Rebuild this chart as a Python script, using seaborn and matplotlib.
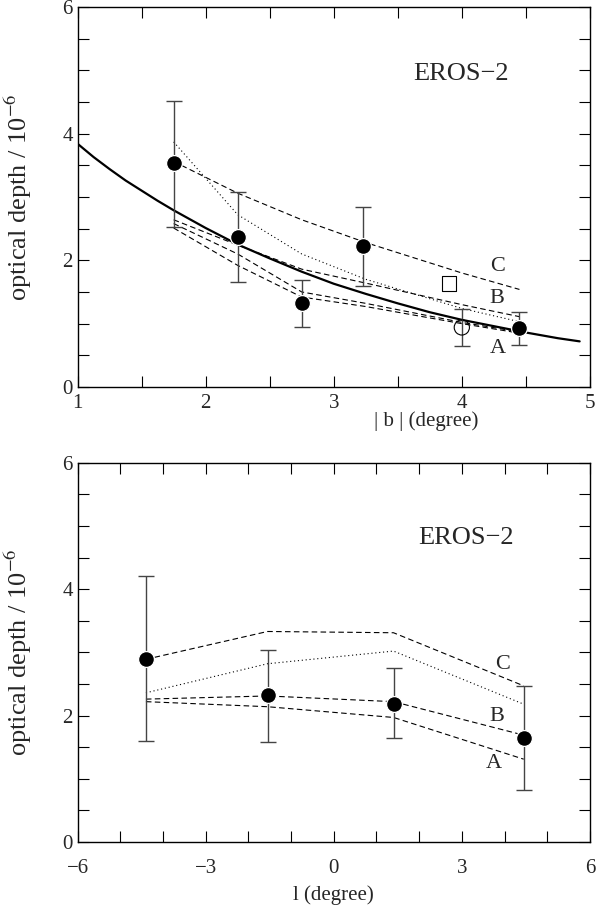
import matplotlib
import matplotlib.pyplot as plt
import seaborn as sns
import pandas as pd

matplotlib.use('Agg')

# top panel data: optical depth vs |b|
b_pts = [1.75, 2.25, 2.75, 3.23, 4.45]
b_tau = [3.53, 2.37, 1.32, 2.22, 0.93]
b_err_hi = [4.52, 3.08, 1.69, 2.84, 1.19]
b_err_lo = [2.53, 1.66, 0.94, 1.59, 0.66]

open_b = [4.0]
open_tau = [0.94]
open_hi = [1.23]
open_lo = [0.65]

square_b = [3.90]
square_tau = [1.63]

# solid fit curve
fit_b = [1.0, 1.125, 1.25, 1.375, 1.5, 1.625, 1.75, 1.875, 2.0, 2.125, 2.25, 2.5, 2.75,
         3.0, 3.25, 3.5, 3.75, 4.0, 4.25, 4.5, 4.75, 4.92]
fit_tau = [3.84, 3.63, 3.44, 3.26, 3.10, 2.94, 2.79, 2.65, 2.51, 2.38, 2.25, 2.03, 1.82,
           1.63, 1.47, 1.32, 1.18, 1.06, 0.96, 0.86, 0.77, 0.72]

# model lines, top panel
model_b = [1.75, 2.25, 2.75, 3.25, 4.0, 4.45]
top_C = [3.56, 3.06, 2.64, 2.28, 1.80, 1.54]
top_dot = [3.87, 2.72, 2.10, 1.70, 1.24, 1.03]
top_B = [2.64, 2.24, 1.86, 1.64, 1.30, 1.11]
top_M = [2.58, 2.10, 1.50, 1.32, 1.02, 0.87]
top_A = [2.51, 1.92, 1.42, 1.27, 1.00, 0.85]

# bottom panel data: optical depth vs l
l_pts = [-4.4, -1.55, 1.4, 4.45]
l_tau = [2.89, 2.32, 2.19, 1.65]
l_err_hi = [4.20, 3.04, 2.75, 2.47]
l_err_lo = [1.60, 1.58, 1.64, 0.82]

bot_C = [2.89, 3.33, 3.31, 2.47]
bot_dot = [2.36, 2.82, 3.02, 2.18]
bot_B = [2.26, 2.31, 2.22, 1.69]
bot_A = [2.22, 2.14, 1.97, 1.31]

sns.set_theme(style='ticks')
plt.rcParams['font.family'] = ['Liberation Serif', 'DejaVu Serif']
plt.rcParams['mathtext.fontset'] = 'stix'
plt.rcParams['xtick.direction'] = 'in'
plt.rcParams['ytick.direction'] = 'in'

fig = plt.figure(figsize=(5.97, 9.09), dpi=100)
ax1 = fig.add_axes([0.130, 0.5743, 0.8581, 0.418])
ax2 = fig.add_axes([0.130, 0.0737, 0.8581, 0.4173])

dash = (0, (5, 3))
dot = (0, (1, 2.5))
errcol = '#444444'


def model_line(ax, x, y, ls):
    df = pd.DataFrame({'x': x, 'y': y})
    sns.lineplot(data=df, x='x', y='y', ax=ax, color='black', linewidth=0.8,
                 linestyle=ls, sort=False, legend=False)


def style_axes(ax, xmin, xmax, xmajor, xminor):
    ax.set_xlim(xmin, xmax)
    ax.set_ylim(0, 6)
    ax.set_xticks(xmajor)
    ax.set_xticks(xminor, minor=True)
    ax.set_yticks([0, 2, 4, 6])
    ax.set_yticks([0.5, 1, 1.5, 2.5, 3, 3.5, 4.5, 5, 5.5], minor=True)
    ax.tick_params(which='both', top=True, right=True, direction='in',
                   length=8, width=0.8, labelsize=15, color='black')
    for s in ax.spines.values():
        s.set_color('black')
        s.set_linewidth(1.0)
    ax.set_ylabel(r'optical depth / 10$^{-6}$', fontsize=19)


# ---- top panel ----
fit_df = pd.DataFrame({'b': fit_b, 'tau': fit_tau})
sns.lineplot(data=fit_df, x='b', y='tau', ax=ax1, color='black', linewidth=1.6)

model_line(ax1, model_b, top_C, dash)
model_line(ax1, model_b, top_dot, dot)
model_line(ax1, model_b, top_B, dash)
model_line(ax1, model_b, top_M, dash)
model_line(ax1, model_b, top_A, dash)

ax1.errorbar(b_pts, b_tau,
             yerr=[[t - lo for t, lo in zip(b_tau, b_err_lo)],
                   [hi - t for t, hi in zip(b_tau, b_err_hi)]],
             fmt='none', ecolor=errcol, elinewidth=1.0, capsize=6, capthick=1.0)
ax1.errorbar(open_b, open_tau,
             yerr=[[open_tau[0] - open_lo[0]], [open_hi[0] - open_tau[0]]],
             fmt='none', ecolor=errcol, elinewidth=1.0, capsize=6, capthick=1.0)
sns.scatterplot(x=b_pts, y=b_tau, ax=ax1, color='black', s=130, zorder=5)
sns.scatterplot(x=open_b, y=open_tau, ax=ax1, facecolor='none', edgecolor='black',
                s=120, linewidth=0.8, zorder=5)
sns.scatterplot(x=square_b, y=square_tau, ax=ax1, marker='s', facecolor='none',
                edgecolor='black', s=110, linewidth=0.8, zorder=5)

ax1.text(4.28, 1.90, 'C', fontsize=16, ha='center', va='center')
ax1.text(4.27, 1.40, 'B', fontsize=16, ha='center', va='center')
ax1.text(4.28, 0.61, 'A', fontsize=16, ha='center', va='center')
ax1.text(3.99, 4.94, 'EROS\u22122', fontsize=19, ha='center', va='center')

style_axes(ax1, 1, 5, [1, 2, 3, 4, 5], [1.5, 2.5, 3.5, 4.5])
ax1.tick_params(axis='x', pad=5)
ax1.set_xlabel('| b | (degree)', fontsize=15)
ax1.xaxis.set_label_coords(0.68, -0.065)
ax1.yaxis.set_label_coords(-0.085, 0.5)

# ---- bottom panel ----
model_line(ax2, l_pts, bot_C, dash)
model_line(ax2, l_pts, bot_dot, dot)
model_line(ax2, l_pts, bot_B, dash)
model_line(ax2, l_pts, bot_A, dash)

ax2.errorbar(l_pts, l_tau,
             yerr=[[t - lo for t, lo in zip(l_tau, l_err_lo)],
                   [hi - t for t, hi in zip(l_tau, l_err_hi)]],
             fmt='none', ecolor=errcol, elinewidth=1.0, capsize=6, capthick=1.0)
sns.scatterplot(x=l_pts, y=l_tau, ax=ax2, color='black', s=130, zorder=5)

ax2.text(3.95, 2.80, 'C', fontsize=16, ha='center', va='center')
ax2.text(3.82, 1.99, 'B', fontsize=16, ha='center', va='center')
ax2.text(3.74, 1.24, 'A', fontsize=16, ha='center', va='center')
ax2.text(3.10, 4.81, 'EROS\u22122', fontsize=19, ha='center', va='center')

style_axes(ax2, -6, 6, [-6, -3, 0, 3, 6], [-5, -4, -2, -1, 1, 2, 4, 5])
ax2.set_xticklabels(['\u22126', '\u22123', '0', '3', '6'])
ax2.tick_params(axis='x', pad=12)
ax2.set_xlabel('l (degree)', fontsize=15)
ax2.xaxis.set_label_coords(0.5, -0.115)
ax2.yaxis.set_label_coords(-0.085, 0.5)

plt.savefig('out.png', dpi=100)
